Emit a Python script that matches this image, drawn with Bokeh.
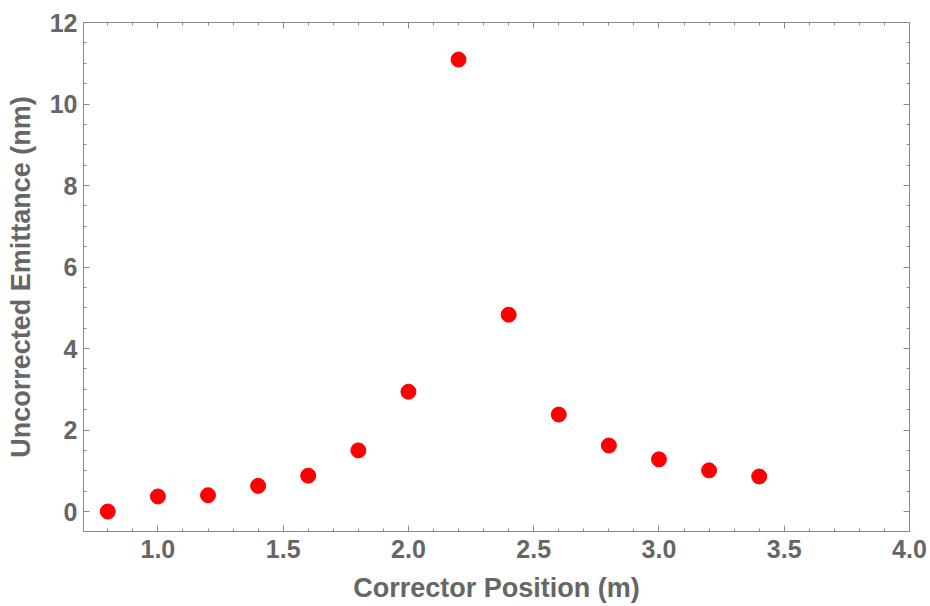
from bokeh.plotting import figure
from bokeh.models import Range1d, LinearAxis, SingleIntervalTicker, NumeralTickFormatter, ColumnDataSource
from bokeh.embed import file_html
from bokeh.resources import INLINE

corrector_position = [0.8, 1.0, 1.2, 1.4, 1.6, 1.8, 2.0, 2.2, 2.4, 2.6, 2.8, 3.0, 3.2, 3.4]
emittance = [0.0, 0.37, 0.40, 0.63, 0.88, 1.50, 2.94, 11.09, 4.83, 2.38, 1.62, 1.28, 1.01, 0.86]

x_label = "Corrector Position (m)"
y_label = "Uncorrected Emittance (nm)"

X_MIN, X_MAX = 0.703, 4.0
Y_MIN, Y_MAX = -0.49, 12.0

FRAME = "#8a8a8a"
TEXT = "#666666"
FONT = "Liberation Sans"

p = figure(width=930, height=606, output_backend="svg", toolbar_location=None,
           x_range=Range1d(X_MIN, X_MAX), y_range=Range1d(Y_MIN, Y_MAX),
           x_axis_location=None, y_axis_location=None)
p.min_border_left = 83
p.min_border_right = 21
p.min_border_top = 22
p.min_border_bottom = 75
p.xgrid.visible = False
p.ygrid.visible = False
p.outline_line_color = FRAME
p.outline_line_width = 1
p.background_fill_color = "white"
p.border_fill_color = "white"


def style(ax, labels=True):
    ax.axis_line_color = FRAME
    ax.major_tick_line_color = FRAME
    ax.minor_tick_line_color = FRAME
    ax.major_tick_in = 6
    ax.major_tick_out = 0
    ax.minor_tick_in = 3
    ax.minor_tick_out = 0
    ax.major_label_text_font = FONT
    ax.major_label_text_font_style = "bold"
    ax.major_label_text_color = TEXT
    ax.major_label_text_font_size = "25px"
    ax.axis_label_text_font = FONT
    ax.axis_label_text_font_style = "bold"
    ax.axis_label_text_color = TEXT
    ax.axis_label_text_font_size = "27px"
    if not labels:
        ax.major_label_text_font_size = "0px"
        ax.major_label_text_alpha = 0


bx = LinearAxis(ticker=SingleIntervalTicker(interval=0.5, num_minor_ticks=5),
                formatter=NumeralTickFormatter(format="0.0"), axis_label=x_label)
style(bx)
bx.major_label_standoff = 8
bx.axis_label_standoff = 12
p.add_layout(bx, "below")

ly = LinearAxis(ticker=SingleIntervalTicker(interval=2, num_minor_ticks=4), axis_label=y_label)
style(ly)
ly.major_label_standoff = 6
ly.axis_label_standoff = 11
p.add_layout(ly, "left")

tx = LinearAxis(ticker=SingleIntervalTicker(interval=0.5, num_minor_ticks=5))
style(tx, labels=False)
p.add_layout(tx, "above")

ry = LinearAxis(ticker=SingleIntervalTicker(interval=2, num_minor_ticks=4))
style(ry, labels=False)
p.add_layout(ry, "right")

src = ColumnDataSource(dict(x=corrector_position, y=emittance))
p.scatter("x", "y", source=src, size=15, fill_color="#ff0000", line_color="#ff0000")

open("out.html", "w").write(file_html(p, INLINE))
